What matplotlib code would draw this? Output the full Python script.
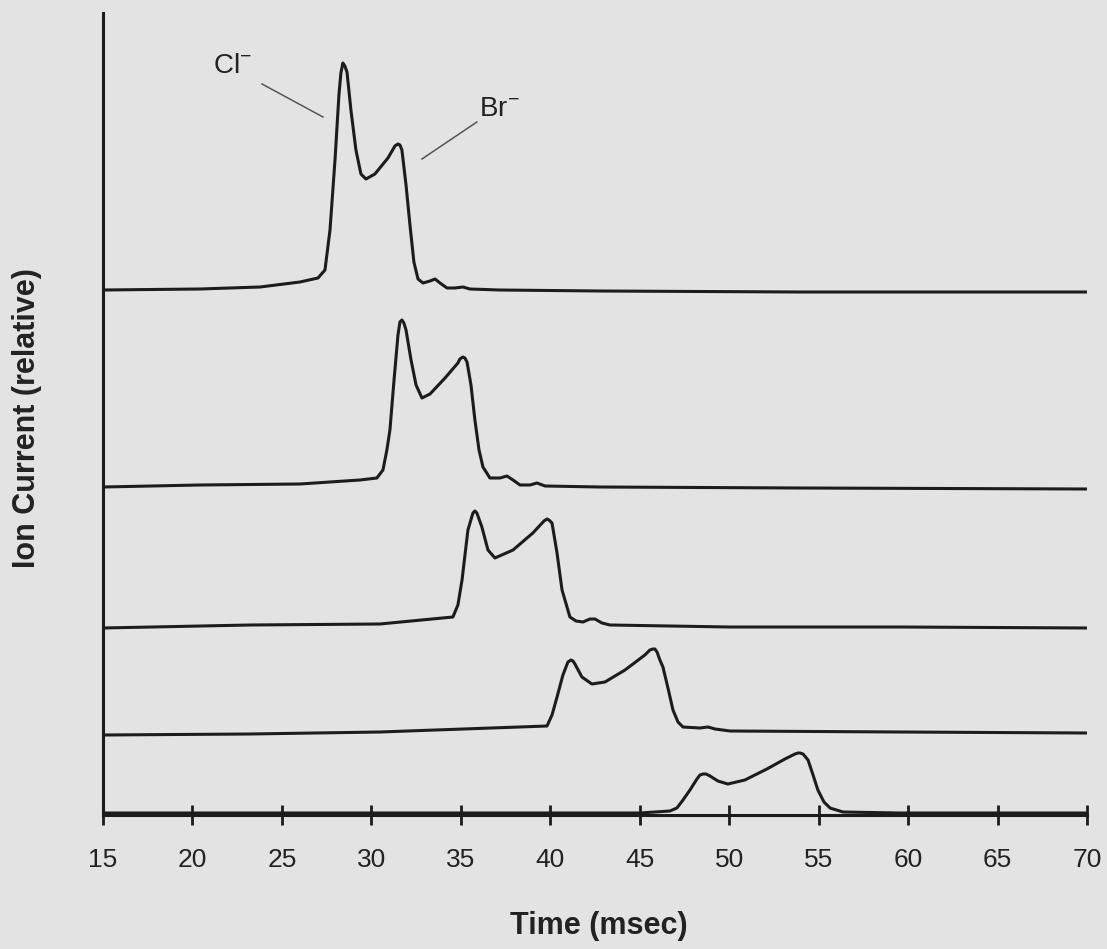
import matplotlib
matplotlib.use("Agg")
import matplotlib.pyplot as plt

plt.rcParams["font.family"] = ["Liberation Sans", "DejaVu Sans"]
plt.rcParams["mathtext.fontset"] = "custom"
plt.rcParams["mathtext.rm"] = "Liberation Sans"
plt.rcParams["mathtext.default"] = "regular"

# ion current traces (time in msec, stacked relative current)
t1 = [15.00, 20.42, 23.78, 26.01, 27.02, 27.41, 27.69, 27.97, 28.19, 28.30, 28.41,
      28.52, 28.64, 28.86, 29.14, 29.42, 29.70, 30.20, 30.93, 31.32, 31.49, 31.60,
      31.71, 31.94, 32.16, 32.38, 32.61, 32.89, 33.28, 33.56, 33.84, 34.23, 34.67,
      35.12, 35.51, 37.19, 42.78, 53.96, 70.00]
y1 = [5.25, 5.26, 5.28, 5.33, 5.37, 5.45, 5.85, 6.55, 7.20, 7.42, 7.52,
      7.49, 7.43, 7.05, 6.65, 6.41, 6.36, 6.41, 6.57, 6.69, 6.71, 6.70,
      6.65, 6.30, 5.90, 5.53, 5.36, 5.32, 5.34, 5.36, 5.32, 5.27, 5.27,
      5.28, 5.26, 5.25, 5.24, 5.23, 5.23]

t2 = [15.00, 20.42, 26.01, 29.36, 30.31, 30.65, 30.87, 31.04, 31.27, 31.49, 31.60,
      31.71, 31.82, 31.94, 32.22, 32.50, 32.83, 33.28, 34.12, 34.84, 34.95, 35.12,
      35.23, 35.35, 35.57, 35.79, 36.02, 36.24, 36.63, 37.19, 37.58, 37.92, 38.31,
      38.87, 39.26, 39.71, 42.78, 53.96, 70.00]
y2 = [3.28, 3.30, 3.31, 3.35, 3.37, 3.45, 3.65, 3.85, 4.35, 4.80, 4.93,
      4.95, 4.92, 4.85, 4.55, 4.30, 4.17, 4.21, 4.37, 4.52, 4.56, 4.58,
      4.57, 4.53, 4.30, 3.95, 3.65, 3.48, 3.37, 3.37, 3.39, 3.35, 3.30,
      3.30, 3.32, 3.29, 3.28, 3.27, 3.26]

t3 = [15.00, 23.22, 30.48, 34.56, 34.84, 35.07, 35.40, 35.68, 35.79, 35.90, 36.18,
      36.52, 36.91, 37.92, 39.03, 39.65, 39.82, 39.93, 40.10, 40.38, 40.66, 41.10,
      41.44, 41.83, 42.22, 42.50, 42.89, 43.34, 50.05, 59.55, 70.00]
y3 = [1.87, 1.90, 1.91, 1.98, 2.10, 2.35, 2.85, 3.02, 3.04, 3.02, 2.88,
      2.65, 2.57, 2.65, 2.82, 2.94, 2.96, 2.95, 2.92, 2.62, 2.25, 1.98,
      1.94, 1.93, 1.96, 1.96, 1.92, 1.90, 1.88, 1.88, 1.87]

t4 = [15.00, 23.22, 30.48, 39.82, 40.10, 40.38, 40.71, 40.99, 41.16, 41.27, 41.38,
      41.77, 42.33, 43.06, 44.18, 45.29, 45.57, 45.74, 45.85, 45.97, 46.13, 46.30,
      46.58, 46.86, 47.14, 47.42, 48.37, 48.82, 49.21, 50.05, 59.55, 70.00]
y4 = [0.80, 0.81, 0.83, 0.89, 1.00, 1.18, 1.40, 1.53, 1.55, 1.54, 1.51,
      1.38, 1.31, 1.33, 1.45, 1.60, 1.65, 1.66, 1.66, 1.63, 1.55, 1.48,
      1.27, 1.05, 0.93, 0.88, 0.87, 0.88, 0.86, 0.84, 0.83, 0.82]

t5 = [15.00, 31.60, 45.02, 46.69, 47.08, 47.42, 47.81, 48.20, 48.37, 48.54, 48.71,
      48.93, 49.37, 49.93, 50.88, 52.11, 53.12, 53.68, 53.85, 53.96, 54.13, 54.41,
      54.69, 54.96, 55.30, 55.64, 56.36, 59.55, 70.00]
y5 = [0.02, 0.02, 0.02, 0.04, 0.07, 0.15, 0.25, 0.36, 0.40, 0.41, 0.41,
      0.39, 0.34, 0.31, 0.35, 0.46, 0.56, 0.61, 0.62, 0.62, 0.61, 0.55,
      0.40, 0.25, 0.13, 0.07, 0.03, 0.02, 0.02]

traces = [(t1, y1), (t2, y2), (t3, y3), (t4, y4), (t5, y5)]
xticks = [15, 20, 25, 30, 35, 40, 45, 50, 55, 60, 65, 70]

bg = "#e3e3e3"
ink = "#1c1c1c"

fig = plt.figure(figsize=(11.07, 9.49), dpi=100, facecolor=bg)
ax = fig.add_axes([0.0930, 0.1412, 0.8889, 0.8451], facecolor=bg)

for t, y in traces:
    ax.plot(t, y, color=ink, lw=2.2, solid_joinstyle="round",
            solid_capstyle="butt", clip_on=False)

ax.set_xlim(15, 70)
ax.set_ylim(0, 8.02)
ax.set_xticks(xticks)
ax.set_yticks([])
for side in ("top", "right"):
    ax.spines[side].set_visible(False)
for side in ("left", "bottom"):
    ax.spines[side].set_linewidth(2.2)
    ax.spines[side].set_color(ink)
ax.tick_params(axis="x", direction="inout", length=14, width=2.0, color=ink,
               labelsize=19, labelcolor="#222222", pad=17)

# peak labels with leader lines
ax.text(21.15, 7.42, "Cl$^{-}$", fontsize=20, color="#222222", va="baseline")
ax.plot([23.89, 27.30], [7.31, 6.98], color="#555555", lw=1.1)
ax.text(36.02, 6.99, "Br$^{-}$", fontsize=20, color="#222222", va="baseline")
ax.plot([35.90, 32.83], [6.93, 6.56], color="#555555", lw=1.1)

fig.text(599 / 1107, 1 - 926 / 949, "Time (msec)", fontsize=22, fontweight="bold",
         color="#222222", ha="center", va="center")
fig.text(27 / 1107, 1 - 418 / 949, "Ion Current (relative)", fontsize=22,
         fontweight="bold", color="#222222", ha="center", va="center", rotation=90)

fig.savefig("out.png", dpi=100, facecolor=bg)
